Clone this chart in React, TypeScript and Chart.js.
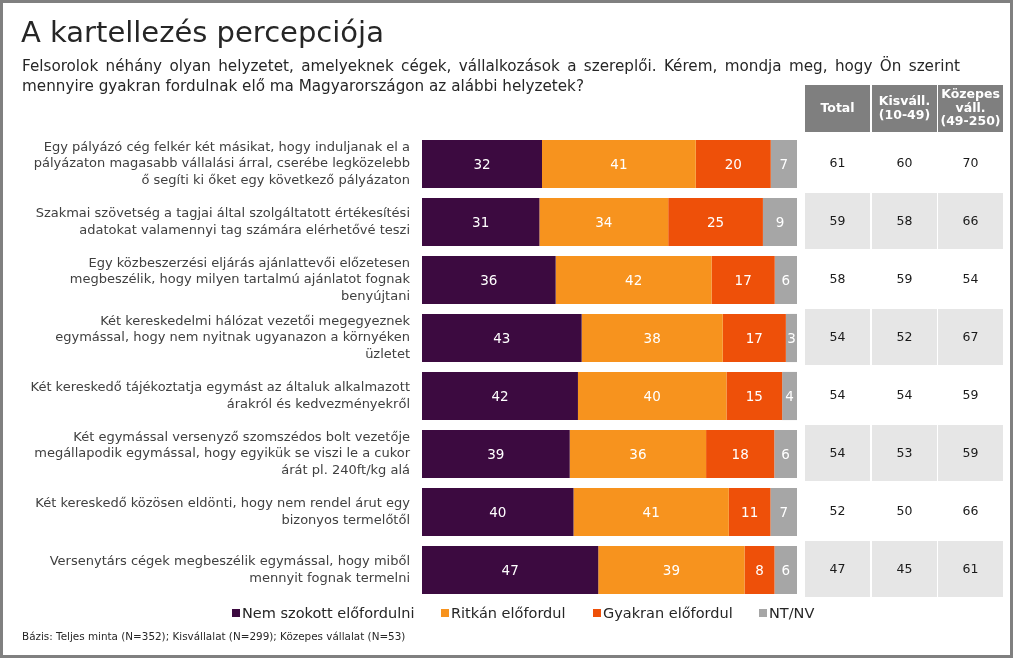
import React, { useEffect, useRef } from "react";
import { Chart, registerables } from "chart.js";
Chart.register(...registerables);

const titleText = "A kartellezés percepciója";
const subtitleLines = [
  "Felsorolok néhány olyan helyzetet, amelyeknek cégek, vállalkozások a szereplői. Kérem, mondja meg, hogy Ön szerint",
  "mennyire gyakran fordulnak elő ma Magyarországon az alábbi helyzetek?",
];
const footerText = "Bázis: Teljes minta (N=352); Kisvállalat (N=299); Közepes vállalat (N=53)";

const categories: string[][] = [
  ["Egy pályázó cég felkér két másikat, hogy induljanak el a", "pályázaton magasabb vállalási árral, cserébe legközelebb", "ő segíti ki őket egy következő pályázaton"],
  ["Szakmai szövetség a tagjai által szolgáltatott értékesítési", "adatokat valamennyi tag számára elérhetővé teszi"],
  ["Egy közbeszerzési eljárás ajánlattevői előzetesen", "megbeszélik, hogy milyen tartalmú ajánlatot fognak", "benyújtani"],
  ["Két kereskedelmi hálózat vezetői megegyeznek", "egymással, hogy nem nyitnak ugyanazon a környéken", "üzletet"],
  ["Két kereskedő tájékoztatja egymást az általuk alkalmazott", "árakról és kedvezményekről"],
  ["Két egymással versenyző szomszédos bolt vezetője", "megállapodik egymással, hogy egyikük se viszi le a cukor", "árát pl. 240ft/kg alá"],
  ["Két kereskedő közösen eldönti, hogy nem rendel árut egy", "bizonyos termelőtől"],
  ["Versenytárs cégek megbeszélik egymással, hogy miből", "mennyit fognak termelni"],
];

const seriesLabels = ["Nem szokott előfordulni", "Ritkán előfordul", "Gyakran előfordul", "NT/NV"];
const nemSzokott = [32, 31, 36, 43, 42, 39, 40, 47];
const ritkan = [41, 34, 42, 38, 40, 36, 41, 39];
const gyakran = [20, 25, 17, 17, 15, 18, 11, 8];
const ntnv = [7, 9, 6, 3, 4, 6, 7, 6];

const tableHeaders: string[][] = [["Total"], ["Kisváll.", "(10-49)"], ["Közepes", "váll.", "(49-250)"]];
const totalCol = [61, 59, 58, 54, 54, 54, 52, 47];
const kisvallCol = [60, 58, 59, 52, 54, 53, 50, 45];
const kozepesCol = [70, 66, 54, 67, 59, 59, 66, 61];

const seriesColors = ["#3C0A40", "#F7931E", "#EE5009", "#A6A6A6"];
const FONT = "'DejaVu Sans', Verdana, sans-serif";

export default function App() {
  const ref = useRef<HTMLCanvasElement | null>(null);
  useEffect(() => {
    const canvas = ref.current;
    if (!canvas) return;
    const cols = [totalCol, kisvallCol, kozepesCol];
    const colX = [[805, 870], [872, 937], [938, 1003]];
    const series = [nemSzokott, ritkan, gyakran, ntnv];
    // 100% stacked: each row normalised to its own sum
    const rowSums = categories.map((_, i) => series.reduce((s, d) => s + d[i], 0));

    const decor = {
      id: "decor",
      afterDatasetsDraw(chart: any) {
        const ctx = chart.ctx;
        ctx.save();
        ctx.fillStyle = "#ffffff";
        ctx.font = `13.5px ${FONT}`;
        ctx.textAlign = "center";
        ctx.textBaseline = "middle";
        chart.data.datasets.forEach((ds: any, di: number) => {
          const meta = chart.getDatasetMeta(di);
          meta.data.forEach((bar: any, i: number) => {
            const p = bar.getCenterPoint();
            ctx.fillText(String(ds.raw[i]), p.x, p.y + 1);
          });
        });
        ctx.restore();
      },
      afterDraw(chart: any) {
        const ctx = chart.ctx;
        const y = chart.scales.y;
        ctx.save();
        // frame
        ctx.strokeStyle = "#808080";
        ctx.lineWidth = 3;
        ctx.strokeRect(1.5, 1.5, 1010, 655);
        // title
        ctx.fillStyle = "#262626";
        ctx.textAlign = "left";
        ctx.textBaseline = "alphabetic";
        ctx.font = `29px ${FONT}`;
        ctx.fillText(titleText, 21, 42);
        // subtitle (first line justified)
        ctx.font = `15.2px ${FONT}`;
        ctx.fillStyle = "#262626";
        const words = subtitleLines[0].split(" ");
        const wordsW = words.reduce((s, w) => s + ctx.measureText(w).width, 0);
        const gap = (960 - 22 - wordsW) / (words.length - 1);
        let cx = 22;
        words.forEach((w) => {
          ctx.fillText(w, cx, 71);
          cx += ctx.measureText(w).width + gap;
        });
        ctx.fillText(subtitleLines[1], 22, 91);
        // category labels
        ctx.font = `13px ${FONT}`;
        ctx.fillStyle = "#404040";
        ctx.textAlign = "right";
        ctx.textBaseline = "middle";
        const lh = 16.8;
        categories.forEach((lines, i) => {
          const cy = y.getPixelForValue(i);
          const start = cy - ((lines.length - 1) * lh) / 2;
          lines.forEach((ln, k) => ctx.fillText(ln, 410, start + k * lh));
        });
        // table header
        ctx.textAlign = "center";
        colX.forEach(([x0, x1], c) => {
          ctx.fillStyle = "#7F7F7F";
          ctx.fillRect(x0, 85, x1 - x0, 47);
          ctx.fillStyle = "#ffffff";
          ctx.font = `bold 12.5px ${FONT}`;
          const hl = tableHeaders[c];
          const lh2 = 13.5;
          const st = 108.5 - ((hl.length - 1) * lh2) / 2;
          hl.forEach((t, k) => ctx.fillText(t, (x0 + x1) / 2, st + k * lh2));
        });
        // table body
        const band = Math.abs(y.getPixelForValue(1) - y.getPixelForValue(0));
        categories.forEach((_, i) => {
          const cy = y.getPixelForValue(i);
          colX.forEach(([x0, x1], c) => {
            if (i % 2 === 1) {
              ctx.fillStyle = "#E6E6E6";
              ctx.fillRect(x0, cy - band / 2, x1 - x0, band - 2);
            }
            ctx.fillStyle = "#1a1a1a";
            ctx.font = `12.5px ${FONT}`;
            ctx.fillText(String(cols[c][i]), (x0 + x1) / 2, cy);
          });
        });
        // legend
        ctx.font = `14.5px ${FONT}`;
        ctx.textAlign = "left";
        const legX = [232, 441, 593, 759];
        seriesLabels.forEach((lab, k) => {
          ctx.fillStyle = seriesColors[k];
          ctx.fillRect(legX[k], 609, 8, 8);
          ctx.fillStyle = "#262626";
          ctx.fillText(lab, legX[k] + 10, 614);
        });
        // footer
        ctx.font = `10.4px ${FONT}`;
        ctx.fillStyle = "#262626";
        ctx.fillText(footerText, 22, 637);
        ctx.restore();
      },
    };

    const chart = new Chart(canvas, {
      type: "bar",
      data: {
        labels: categories.map((c) => c.join(" ")),
        datasets: series.map((d, k) => ({
          label: seriesLabels[k],
          raw: d,
          data: d.map((v, i) => (v / rowSums[i]) * 100),
          backgroundColor: seriesColors[k],
          borderWidth: 0,
          barPercentage: 0.83,
          categoryPercentage: 1,
        })),
      },
      options: {
        indexAxis: "y",
        responsive: false,
        animation: false,
        devicePixelRatio: 1,
        layout: { padding: { left: 422, right: 218, top: 135, bottom: 62 } },
        scales: {
          x: { stacked: true, min: 0, max: 100, display: false },
          y: { stacked: true, display: false },
        },
        plugins: { legend: { display: false }, tooltip: { enabled: false }, title: { display: false } },
      },
      plugins: [decor],
    } as any);
    return () => chart.destroy();
  }, []);
  return (
    <div style={{ position: "fixed", left: 0, top: 0, width: 1015, height: 661, background: "#fff" }}>
      <canvas ref={ref} width={1015} height={661} style={{ width: 1015, height: 661, display: "block" }} />
    </div>
  );
}
